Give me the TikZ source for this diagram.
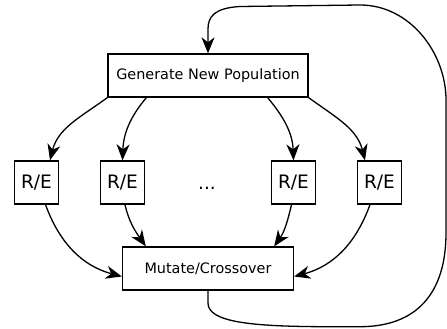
\documentclass[tikz,border=0pt]{standalone}
\usepackage{fontspec}
\setmainfont{DejaVu Sans}
\usetikzlibrary{arrows.meta}

\tikzset{
  stage/.style={draw, line width=1.3pt, inner sep=0pt, minimum height=43pt,
    font=\fontsize{14.4}{17}\selectfont},
  evalbox/.style={stage, minimum width=44pt, font=\fontsize{18.5}{22}\selectfont},
  flow/.style={-{Stealth[length=16pt,width=13pt,inset=5pt]}, line width=1.3pt},
}

\begin{document}
\begin{tikzpicture}[x=1pt,y=1pt]
  \useasboundingbox (0,0) rectangle (447,329);

  % Stages
  \node[stage, minimum width=200pt] (gen) at (208,253.5) {Generate New Population};
  \node[stage, minimum width=171pt] (mut) at (208,60.5) {Mutate/Crossover};

  % Rank/evaluate boxes
  \node[evalbox] (re1) at (36.5,146.5) {R/E};
  \node[evalbox] (re2) at (122.5,146.5) {R/E};
  \node[evalbox] (re3) at (293.5,146.5) {R/E};
  \node[evalbox] (re4) at (379.5,146.5) {R/E};
  \node[anchor=base, font=\fontsize{18.5}{22}\selectfont] (dots) at (207,139) {...};

  % Spread out
  \draw[flow] (gen.south west) to[out=216,in=76] ([xshift=13.5pt]re1.north);
  \draw[flow] ([xshift=39pt]gen.south west) to[out=230,in=88] (re2.north);
  \draw[flow] ([xshift=-41pt]gen.south east) to[out=-50,in=92] (re3.north);
  \draw[flow] (gen.south east) to[out=-36,in=104] ([xshift=-14.5pt]re4.north);

  % Gather in
  \draw[flow] ([xshift=9pt]re1.south) to[out=-70,in=165] ([yshift=-8pt]mut.west);
  \draw[flow] ([xshift=2.5pt]re2.south) to[out=-77,in=125] ([xshift=24pt]mut.north west);
  \draw[flow] ([xshift=-2pt]re3.south) to[out=-103,in=55] ([xshift=-20pt]mut.north east);
  \draw[flow] ([xshift=-9.5pt]re4.south) to[out=-110,in=15] ([yshift=-8pt]mut.east);

  % Loop back
  \draw[flow] (mut.south) -- (208,26)
    .. controls (208,7) and (250,2.3) .. (330,2.3) -- (360,2.3)
    .. controls (416,2.3) and (446,35) .. (446,96)
    -- (446,229)
    .. controls (446,276) and (410,324) .. (360,324)
    -- (240,322.5)
    .. controls (214,321) and (208,312) .. (208,300)
    -- (gen.north);
\end{tikzpicture}
\end{document}
